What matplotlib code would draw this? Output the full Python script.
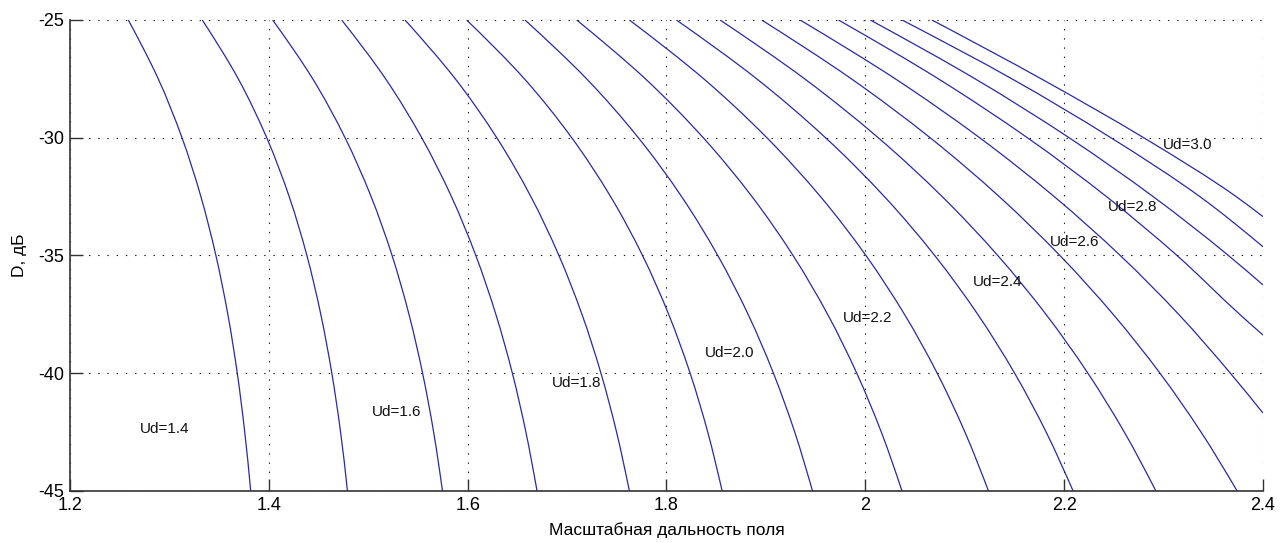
import numpy as np
import matplotlib
matplotlib.use('Agg')
import matplotlib.pyplot as plt
from matplotlib.path import Path
from matplotlib.patches import PathPatch

# D levels (dB) at which the curves were read
d_levels = [-25, -27.5, -30, -32.5, -35, -37.5, -40, -42.5, -45]

ud_values = [1.4, 1.5, 1.6, 1.7, 1.8, 1.9, 2.0, 2.1, 2.2,
             2.3, 2.4, 2.5, 2.6, 2.7, 2.8, 2.9, 3.0]

# scaled field range for each Ud at the d_levels (None = outside the plot)
range_x = [
    [1.2587, 1.2888, 1.3127, 1.3317, 1.3468, 1.3588, 1.3683, 1.3758, 1.3818],
    [1.3331, 1.3693, 1.3979, 1.4205, 1.4383, 1.4523, 1.4634, 1.4722, 1.4791],
    [1.4039, 1.4442, 1.4767, 1.5029, 1.5240, 1.5410, 1.5547, 1.5658, 1.5747],
    [1.4733, 1.5175, 1.5538, 1.5837, 1.6082, 1.6284, 1.6450, 1.6586, 1.6698],
    [1.5370, 1.5876, 1.6293, 1.6636, 1.6918, 1.7150, 1.7341, 1.7498, 1.7627],
    [1.5990, 1.6571, 1.7047, 1.7438, 1.7759, 1.8022, 1.8238, 1.8415, 1.8560],
    [1.6577, 1.7197, 1.7717, 1.8152, 1.8516, 1.8821, 1.9076, 1.9290, 1.9469],
    [1.7097, 1.7788, 1.8370, 1.8860, 1.9273, 1.9621, 1.9914, 2.0161, 2.0369],
    [1.7627, 1.8375, 1.9010, 1.9549, 2.0006, 2.0394, 2.0723, 2.1002, 2.1239],
    [1.8100, 1.8908, 1.9600, 2.0192, 2.0698, 2.1131, 2.1502, 2.1819, 2.2090],
    [1.8539, 1.9390, 2.0130, 2.0773, 2.1332, 2.1817, 2.2239, 2.2605, 2.2923],
    [1.8958, 1.9860, 2.0652, 2.1347, 2.1957, 2.2493, 2.2964, 2.3377, 2.3740],
    [1.9344, 2.0302, 2.1150, 2.1900, 2.2564, 2.3152, 2.3672, None, None],
    [1.9730, 2.0735, 2.1630, 2.2426, 2.3135, 2.3766, None, None, None],
    [2.0050, 2.1105, 2.2050, 2.2895, 2.3652, None, None, None, None],
    [2.0370, 2.1475, 2.2470, 2.3365, None, None, None, None, None],
    [2.0670, 2.1770, 2.2800, 2.3730, None, None, None, None, None],
]

# where the upper curves leave the plot at the right edge (x = 2.4)
edge_ud = [2.6, 2.7, 2.8, 2.9, 3.0]
edge_d = [-41.69, -38.38, -36.25, -34.63, -33.35]

# contour labels (left edge of text, centre height)
label_ud = [1.4, 1.6, 1.8, 2.0, 2.2, 2.4, 2.6, 2.8, 3.0]
label_x = [1.2704, 1.5038, 1.6849, 1.8388, 1.9777, 2.1085, 2.1859, 2.2443, 2.2996]
label_d = [-42.37, -41.65, -40.41, -39.14, -37.65, -36.13, -34.43, -32.94, -30.31]

x_ticks = [1.2, 1.4, 1.6, 1.8, 2.0, 2.2, 2.4]
x_ticklabels = ['1.2', '1.4', '1.6', '1.8', '2', '2.2', '2.4']
y_ticks = [-45, -40, -35, -30, -25]

plt.rcParams['font.family'] = ['Liberation Sans', 'DejaVu Sans']
plt.rcParams['axes.unicode_minus'] = False


def smooth_path(xs, ys):
    # draw x(D) as a smooth cubic curve through the read points
    xs = np.asarray(xs, float)
    ys = np.asarray(ys, float)
    h = np.diff(ys)
    d = np.diff(xs) / h
    m = np.zeros(len(xs))
    for i in range(1, len(xs) - 1):
        m[i] = (d[i - 1] * h[i] + d[i] * h[i - 1]) / (h[i - 1] + h[i])
    m[0] = 1.5 * d[0] - 0.5 * m[1] if len(xs) > 2 else d[0]
    m[-1] = 1.5 * d[-1] - 0.5 * m[-2] if len(xs) > 2 else d[-1]
    verts = [(xs[0], ys[0])]
    codes = [Path.MOVETO]
    for i in range(len(xs) - 1):
        verts += [(xs[i] + m[i] * h[i] / 3, ys[i] + h[i] / 3),
                  (xs[i + 1] - m[i + 1] * h[i] / 3, ys[i + 1] - h[i] / 3),
                  (xs[i + 1], ys[i + 1])]
        codes += [Path.CURVE4] * 3
    return Path(verts, codes)


fig = plt.figure(figsize=(12.86, 5.43), dpi=100)
ax = fig.add_axes([0.0544, 0.0958, 0.9277, 0.8674])

line_color = '#2a2aa5'
for ud, xs in zip(ud_values, range_x):
    px = [x for x in xs if x is not None]
    py = [d for x, d in zip(xs, d_levels) if x is not None]
    if ud in edge_ud:
        px.append(x_ticks[-1])
        py.append(edge_d[edge_ud.index(ud)])
    ax.add_patch(PathPatch(smooth_path(px, py), fill=False,
                           edgecolor=line_color, linewidth=0.9))

for ud, lx, ld in zip(label_ud, label_x, label_d):
    ax.text(lx, ld, f'Ud={ud:.1f}', fontsize=11, ha='left', va='center', color='#111111')

ax.set_xlim(1.2, 2.4)
ax.set_ylim(-45, -25)
ax.set_xticks(x_ticks)
ax.set_xticklabels(x_ticklabels)
ax.set_yticks(y_ticks)

ax.grid(True, color='#222222', linestyle=(0, (1.3, 7)), linewidth=0.8)
ax.tick_params(direction='in', length=9, width=1, labelsize=13, colors='#333333',
               labelcolor='black', pad=4)
for side in ['top', 'right']:
    ax.spines[side].set_visible(False)
for side in ['left', 'bottom']:
    ax.spines[side].set_color('#333333')
    ax.spines[side].set_linewidth(1.2)

ax.set_xlabel('Масштабная дальность поля', fontsize=12.5, labelpad=6)
ax.set_ylabel('D, дБ', fontsize=12.5, labelpad=8)

fig.savefig('out.png', dpi=100, facecolor='white')
